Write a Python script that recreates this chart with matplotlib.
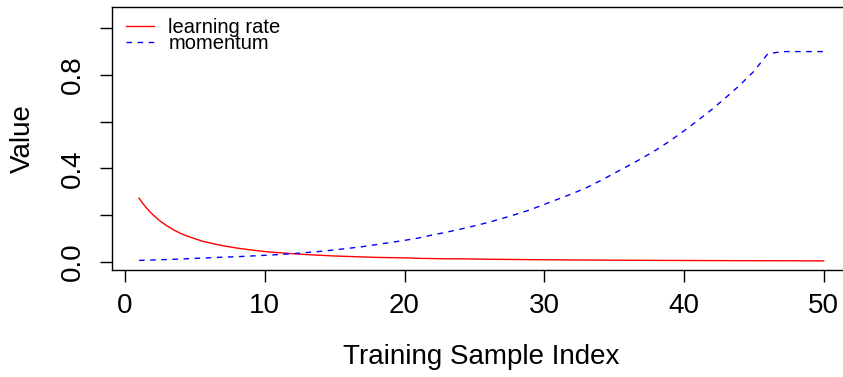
import numpy as np
import matplotlib
matplotlib.use('Agg')
import matplotlib.pyplot as plt

RED  = '#ff0000'
BLUE = '#0000ff'

plt.rcParams['font.family'] = ['Liberation Sans', 'DejaVu Sans']

# training sample index (a few extra points where the learning rate bends fast)
lr_idx = [1, 1.25, 1.5, 1.75, 2, 2.5, 3, 3.5, 4, 4.5, 5, 5.5, 6, 6.5] + list(range(7, 51))
learning_rate = [0.272, 0.250, 0.232, 0.215, 0.200, 0.174, 0.153, 0.135, 0.120, 0.108,
                 0.098, 0.088, 0.081, 0.074,
                 0.068, 0.058, 0.050, 0.043,
                 0.038, 0.034, 0.030, 0.027, 0.024, 0.022, 0.020, 0.018, 0.017, 0.016,
                 0.014, 0.013, 0.012, 0.012, 0.011, 0.010, 0.0095, 0.0089, 0.0084, 0.0079,
                 0.0075, 0.0071, 0.0067, 0.0064, 0.0061, 0.0058, 0.0055, 0.0052, 0.0050, 0.0048,
                 0.0046, 0.0044, 0.0042, 0.0040, 0.0039, 0.0037, 0.0036, 0.0035, 0.0033, 0.0032]

mom_idx = list(range(1, 51))
momentum = [0.005, 0.007, 0.009, 0.011, 0.014, 0.016, 0.019, 0.021, 0.024, 0.027,
            0.030, 0.034, 0.039, 0.044, 0.050, 0.057, 0.064, 0.073, 0.082, 0.091,
            0.101, 0.114, 0.126, 0.139, 0.153, 0.168, 0.185, 0.203, 0.222, 0.245,
            0.268, 0.291, 0.316, 0.346, 0.378, 0.410, 0.443, 0.478, 0.517, 0.560,
            0.605, 0.652, 0.703, 0.756, 0.815, 0.890, 0.900, 0.900, 0.900, 0.900]

x_ticks = [0, 10, 20, 30, 40, 50]
y_ticks = [0.0, 0.2, 0.4, 0.6, 0.8, 1.0]
y_ticklabels = ['0.0', '', '0.4', '', '0.8', '']

W, H = 843, 377
fig = plt.figure(figsize=(W / 100, H / 100), dpi=100)
# axes box in pixels: left 111.7, right 851 (clipped), top 7, bottom 270
ax = fig.add_axes([111.7 / W, 1 - 270 / H, (851 - 111.7) / W, (270 - 7) / H])

ax.plot(lr_idx, learning_rate, color=RED, lw=1.0, label='learning rate')
ax.plot(mom_idx, momentum, color=BLUE, lw=1.0, linestyle=(0, (4, 4)), label='momentum')

ax.set_xlim(-0.96, 51.96)
ax.set_ylim(-0.036, 1.091)

ax.set_xticks(x_ticks)
ax.set_yticks(y_ticks)
ax.set_yticklabels(y_ticklabels, rotation=90, va='center')
ax.tick_params(axis='both', direction='out', length=8.6, width=1.0, labelsize=20, colors='black')
ax.tick_params(axis='x', pad=8)
ax.tick_params(axis='y', pad=10)
for s in ax.spines.values():
    s.set_linewidth(1.0)

fig.text(22.5 / W, 1 - 139 / H, 'Value', rotation=90, ha='center', va='center', fontsize=20)
fig.text(481 / W, 1 - 357 / H, 'Training Sample Index', ha='center', va='center', fontsize=20)

ax.legend(loc='upper left', bbox_to_anchor=(126 / W, 1 - 18 / H), bbox_transform=fig.transFigure,
          frameon=False, fontsize=14.5, handlelength=1.4, handletextpad=0.7,
          labelspacing=-0.17, borderpad=0, borderaxespad=0)

fig.savefig('out.png', dpi=100)
